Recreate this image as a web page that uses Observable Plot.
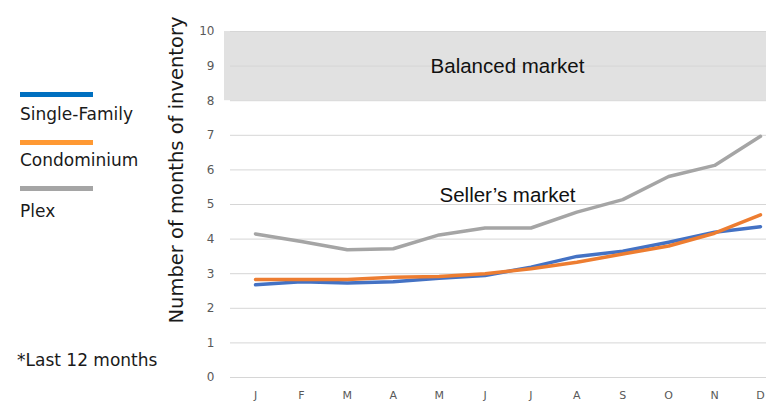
<!DOCTYPE html>
<html><head><meta charset="utf-8">
<script src="https://cdn.jsdelivr.net/npm/d3@7"></script>
<script src="https://cdn.jsdelivr.net/npm/@observablehq/plot@0.6"></script>
<style>
html,body{margin:0;padding:0;background:#fff;}
#wrap{position:relative;width:766px;height:404px;overflow:hidden;font-family:"DejaVu Sans",sans-serif;}
#chart{position:absolute;left:0;top:0;}
.lg{position:absolute;left:20px;width:73px;height:5px;}
.lt{position:absolute;left:20px;font-size:17px;color:#1a1a1a;line-height:1;}
#ylab{position:absolute;left:176px;top:170px;transform:translate(-50%,-50%) rotate(-90deg);white-space:nowrap;font-size:19.5px;color:#1a1a1a;}
#foot{position:absolute;left:17px;top:352px;font-size:17px;color:#1a1a1a;line-height:1;}
</style></head>
<body>
<div id="wrap">
  <div id="chart"></div>
  <div class="lg" style="top:92px;background:#0070C0"></div>
  <div class="lt" style="top:106px">Single-Family</div>
  <div class="lg" style="top:140px;background:#FF9933"></div>
  <div class="lt" style="top:152px">Condominium</div>
  <div class="lg" style="top:186px;background:#A5A5A5"></div>
  <div class="lt" style="top:203px">Plex</div>
  <div id="ylab">Number of months of inventory</div>
  <div id="foot">*Last 12 months</div>
</div>
<script>
const months = ["J","F","M","A","M","J","J","A","S","O","N","D"];
const singleFamily = [2.68,2.77,2.73,2.77,2.87,2.95,3.19,3.50,3.65,3.91,4.20,4.36];
const condominium = [2.83,2.83,2.83,2.90,2.92,3.00,3.14,3.33,3.57,3.80,4.17,4.70];
const plex = [4.15,3.93,3.69,3.72,4.12,4.32,4.32,4.78,5.14,5.81,6.13,6.97];
const yTicks = [0,1,2,3,4,5,6,7,8,9,10];
const balancedBand = [{y1: 8, y2: 10}];
const notes = [
  {label: "Balanced market", x: 5.5, y: 8.8, dx: -3},
  {label: "Seller\u2019s market", x: 5.5, y: 5.06, dx: 0}
];

const idx = months.map((m, i) => i);
const series = (vals) => idx.map(i => ({i, v: vals[i]}));

const chart = Plot.plot({
  width: 766,
  height: 404,
  marginLeft: 230,
  marginRight: 0,
  marginTop: 31,
  marginBottom: 27,
  style: {fontFamily: "DejaVu Sans, sans-serif", background: "transparent"},
  x: {type: "linear", domain: [0, 11], insetLeft: 25, insetRight: 6},
  y: {domain: [0, 10]},
  marks: [
    Plot.rect(balancedBand, {y1: "y1", y2: "y2", fill: "#e1e1e1", insetLeft: -6}),
    Plot.ruleY(yTicks, {stroke: "#d6d6d6", strokeWidth: 1}),
    Plot.axisY({ticks: yTicks, tickSize: 0, tickPadding: 16, fontSize: 12, fill: "#595959", label: null}),
    Plot.axisX({ticks: idx, tickFormat: i => months[i], tickSize: 0, tickPadding: 14, fontSize: 11, fill: "#595959", label: null}),
    Plot.line(series(plex), {x: "i", y: "v", stroke: "#A5A5A5", strokeWidth: 3.5, strokeLinejoin: "round", strokeLinecap: "round"}),
    Plot.line(series(singleFamily), {x: "i", y: "v", stroke: "#4472C4", strokeWidth: 3.5, strokeLinejoin: "round", strokeLinecap: "round"}),
    Plot.line(series(condominium), {x: "i", y: "v", stroke: "#ED7D31", strokeWidth: 3.5, strokeLinejoin: "round", strokeLinecap: "round"}),
    Plot.text(notes, {x: "x", y: "y", dx: "dx", text: "label", lineAnchor: "bottom", textAnchor: "middle", fontSize: 20.5, fill: "#111", fontFamily: "Liberation Sans, Arial, sans-serif"})
  ]
});
document.getElementById("chart").appendChild(chart);
</script>
</body></html>
